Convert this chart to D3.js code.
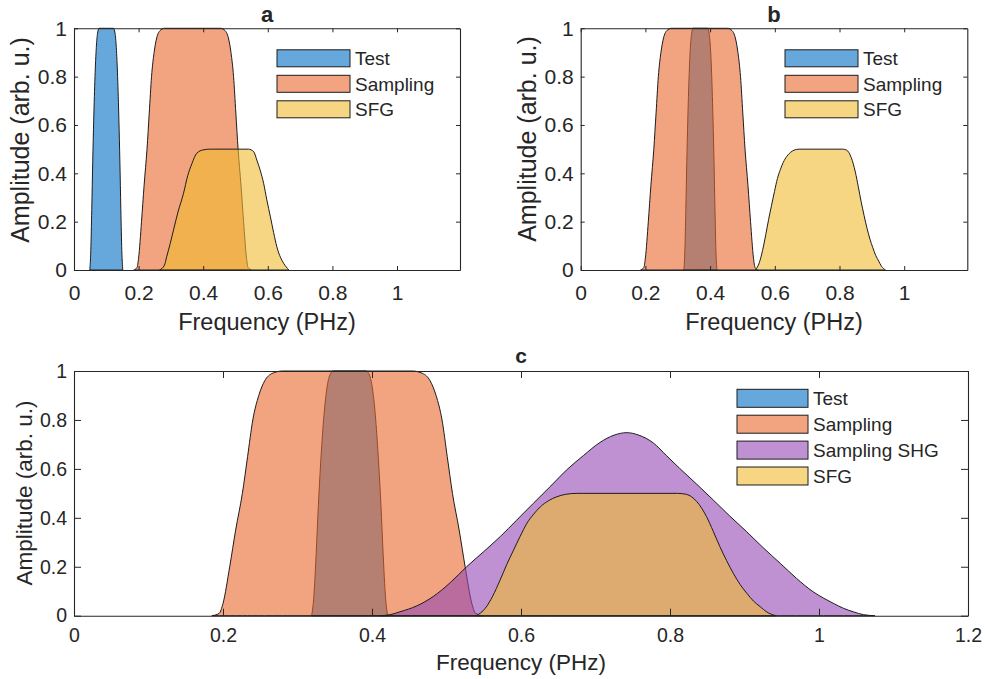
<!DOCTYPE html>
<html>
<head>
<meta charset="utf-8">
<script src="https://cdn.jsdelivr.net/npm/d3@7"></script>
<style>
  html, body { margin: 0; padding: 0; background: #ffffff; }
  svg { display: block; }
  text { font-family: "Liberation Sans", Arial, Helvetica, sans-serif; fill: #262626; }
</style>
</head>
<body>
<svg id="fig" width="985" height="679"></svg>
<script>
// ---------- spectra, [frequency (PHz), amplitude] ----------
const testPanelA = [
  [0.049,0],[0.052,0.08],[0.055,0.25],[0.058,0.45],[0.061,0.62],[0.065,0.8],[0.069,0.92],
  [0.073,0.98],[0.078,1],[0.122,1],[0.127,0.98],[0.131,0.92],[0.135,0.8],[0.139,0.62],
  [0.142,0.45],[0.145,0.25],[0.148,0.08],[0.151,0]
];
const testPanelBC = [
  [0.319,0],[0.322,0.08],[0.325,0.25],[0.328,0.45],[0.331,0.62],[0.335,0.8],[0.339,0.92],
  [0.343,0.98],[0.348,1],[0.392,1],[0.397,0.98],[0.401,0.92],[0.405,0.8],[0.409,0.62],
  [0.412,0.45],[0.415,0.25],[0.418,0.08],[0.421,0]
];
const sampling = [
  [0.185,0],[0.195,0.01],[0.200,0.05],[0.209,0.2],[0.217,0.35],[0.226,0.5],[0.233,0.65],
  [0.240,0.8],[0.248,0.9],[0.256,0.96],[0.266,0.99],[0.280,1],[0.454,1],[0.468,0.99],
  [0.478,0.96],[0.486,0.9],[0.494,0.8],[0.501,0.65],[0.508,0.5],[0.517,0.35],[0.525,0.2],
  [0.534,0.05],[0.539,0.01],[0.549,0]
];
const sfgPanelA = [
  [0.265,0],[0.280,0.02],[0.287,0.055],[0.298,0.11],[0.308,0.165],[0.322,0.24],[0.339,0.317],
  [0.352,0.39],[0.365,0.44],[0.380,0.483],[0.400,0.497],[0.420,0.5],[0.540,0.5],[0.556,0.49],
  [0.566,0.455],[0.577,0.41],[0.587,0.359],[0.597,0.29],[0.608,0.22],[0.618,0.155],
  [0.628,0.096],[0.640,0.05],[0.649,0.028],[0.665,0]
];
const sfgPanelBC = [
  [0.540,0],[0.552,0.03],[0.562,0.08],[0.572,0.146],[0.581,0.21],[0.590,0.268],[0.599,0.325],
  [0.608,0.378],[0.617,0.415],[0.626,0.445],[0.637,0.470],[0.648,0.486],[0.660,0.496],
  [0.675,0.5],[0.810,0.5],[0.822,0.496],[0.836,0.466],[0.849,0.405],[0.858,0.345],
  [0.867,0.282],[0.876,0.225],[0.885,0.173],[0.894,0.128],[0.903,0.092],[0.912,0.06],
  [0.921,0.037],[0.930,0.015],[0.942,0]
];
const samplingShg = [
  [0.410,0],[0.424,0.004],[0.4376,0.016],[0.460,0.04],[0.482,0.078],[0.505,0.135],[0.527,0.2],
  [0.550,0.262],[0.572,0.323],[0.594,0.39],[0.6165,0.459],[0.640,0.53],[0.661,0.595],
  [0.684,0.655],[0.706,0.708],[0.725,0.738],[0.742,0.748],[0.758,0.738],[0.778,0.705],
  [0.795,0.655],[0.813,0.602],[0.836,0.537],[0.858,0.473],[0.880,0.408],[0.903,0.343],
  [0.925,0.278],[0.948,0.214],[0.970,0.152],[0.992,0.098],[1.006,0.072],[1.019,0.051],
  [1.033,0.03],[1.046,0.016],[1.060,0.004],[1.075,0]
];

// ---------- labels and ticks ----------
const panelTitles = ["a", "b", "c"];
const legendTopPanels = ["Test", "Sampling", "SFG"];
const legendBottomPanel = ["Test", "Sampling", "Sampling SHG", "SFG"];
const xTicksTop = [0, 0.2, 0.4, 0.6, 0.8, 1];
const xTickLabelsTop = ["0", "0.2", "0.4", "0.6", "0.8", "1"];
const xTicksBottom = [0, 0.2, 0.4, 0.6, 0.8, 1, 1.2];
const xTickLabelsBottom = ["0", "0.2", "0.4", "0.6", "0.8", "1", "1.2"];
const yTicks = [0, 0.2, 0.4, 0.6, 0.8, 1];
const yTickLabels = ["0", "0.2", "0.4", "0.6", "0.8", "1"];
const xAxisTitle = "Frequency (PHz)";
const yAxisTitle = "Amplitude (arb. u.)";

// ---------- styling ----------
const seriesColor = {
  "Test": "#006ec5",
  "Sampling": "#e9662b",
  "Sampling SHG": "#9648b4",
  "SFG": "#f0bb2f"
};
const fillAlpha = 0.6;
const axisColor = "#262626";

const svg = d3.select("#fig");

function drawPanel(p) {
  const x = d3.scaleLinear().domain([0, p.xMax]).range([p.left, p.right]);
  const y = d3.scaleLinear().domain([0, 1]).range([p.bottom, p.top]);
  const g = svg.append("g");

  const area = d3.area()
    .x(d => x(d[0]))
    .y0(y(0))
    .y1(d => y(d[1]))
    .curve(d3.curveMonotoneX);

  p.series.forEach(s => {
    g.append("path")
      .datum(s.data)
      .attr("d", area)
      .attr("fill", seriesColor[s.name])
      .attr("fill-opacity", fillAlpha)
      .attr("stroke", "#1c1c1c")
      .attr("stroke-width", 1)
      .attr("stroke-linejoin", "round");
  });

  // axes with inward ticks on all four sides
  const tl = p.tickLen;
  const fmtX = d => p.xLabels[p.xTicks.indexOf(d)];
  const fmtY = d => yTickLabels[yTicks.indexOf(d)];

  const bottom = g.append("g").attr("transform", `translate(0,${p.bottom})`)
    .call(d3.axisBottom(x).tickValues(p.xTicks).tickFormat(fmtX)
      .tickSizeInner(-tl).tickSizeOuter(0).tickPadding(p.xPad));
  const top = g.append("g").attr("transform", `translate(0,${p.top})`)
    .call(d3.axisTop(x).tickValues(p.xTicks).tickFormat("")
      .tickSizeInner(-tl).tickSizeOuter(0));
  const left = g.append("g").attr("transform", `translate(${p.left},0)`)
    .call(d3.axisLeft(y).tickValues(yTicks).tickFormat(fmtY)
      .tickSizeInner(-tl).tickSizeOuter(0).tickPadding(p.yPad));
  const right = g.append("g").attr("transform", `translate(${p.right},0)`)
    .call(d3.axisRight(y).tickValues(yTicks).tickFormat("")
      .tickSizeInner(-tl).tickSizeOuter(0));

  [bottom, top, left, right].forEach(a => {
    a.select(".domain").attr("stroke", axisColor).attr("stroke-width", 1.1);
    a.selectAll(".tick line").attr("stroke", axisColor).attr("stroke-width", 1);
    a.selectAll(".tick text")
      .attr("fill", axisColor)
      .style("font-family", '"Liberation Sans", Arial, sans-serif')
      .style("font-size", p.tickFont + "px");
  });

  // title
  svg.append("text")
    .attr("x", (p.left + p.right) / 2)
    .attr("y", p.titleY)
    .attr("text-anchor", "middle")
    .style("font-weight", "bold")
    .style("font-size", p.titleFont + "px")
    .text(p.title);

  // axis titles
  svg.append("text")
    .attr("x", (p.left + p.right) / 2)
    .attr("y", p.xLabelY)
    .attr("text-anchor", "middle")
    .style("font-size", p.labelFont + "px")
    .text(xAxisTitle);

  svg.append("text")
    .attr("transform", `translate(${p.yLabelX},${p.yLabelCY}) rotate(-90)`)
    .attr("text-anchor", "middle")
    .style("font-size", p.yLabelFont + "px")
    .text(yAxisTitle);

  // legend
  const lg = svg.append("g");
  p.legend.forEach((name, i) => {
    const cy = p.legY0 + i * p.legStep;
    lg.append("rect")
      .attr("x", p.legX).attr("y", cy - p.legH / 2)
      .attr("width", p.legW).attr("height", p.legH)
      .attr("fill", seriesColor[name]).attr("fill-opacity", fillAlpha)
      .attr("stroke", "#1c1c1c").attr("stroke-width", 1);
    lg.append("text")
      .attr("x", p.legX + p.legW + 5)
      .attr("y", cy)
      .attr("dy", "0.36em")
      .style("font-size", p.legFont + "px")
      .text(name);
  });
}

drawPanel({
  title: panelTitles[0], left: 74, right: 460, top: 28.3, bottom: 270, xMax: 1.195,
  xTicks: xTicksTop, xLabels: xTickLabelsTop, tickLen: 4, xPad: 15, yPad: 7,
  tickFont: 21, titleFont: 22, titleY: 22, labelFont: 23.5, yLabelFont: 25,
  xLabelY: 330, yLabelX: 29, yLabelCY: 140,
  series: [
    { name: "Test", data: testPanelA },
    { name: "Sampling", data: sampling },
    { name: "SFG", data: sfgPanelA }
  ],
  legend: legendTopPanels, legX: 277, legW: 73, legH: 17, legY0: 58.3, legStep: 25.5, legFont: 19
});

drawPanel({
  title: panelTitles[1], left: 580.7, right: 967.3, top: 28.3, bottom: 270, xMax: 1.195,
  xTicks: xTicksTop, xLabels: xTickLabelsTop, tickLen: 4, xPad: 15, yPad: 7,
  tickFont: 21, titleFont: 22, titleY: 22, labelFont: 23.5, yLabelFont: 25,
  xLabelY: 330, yLabelX: 536, yLabelCY: 139,
  series: [
    { name: "Test", data: testPanelBC },
    { name: "Sampling", data: sampling },
    { name: "SFG", data: sfgPanelBC }
  ],
  legend: legendTopPanels, legX: 785, legW: 73, legH: 17, legY0: 58.3, legStep: 25.5, legFont: 19
});

drawPanel({
  title: panelTitles[2], left: 74, right: 968, top: 371, bottom: 615.7, xMax: 1.2,
  xTicks: xTicksBottom, xLabels: xTickLabelsBottom, tickLen: 7, xPad: 12, yPad: 7,
  tickFont: 19.5, titleFont: 21, titleY: 363, labelFont: 22.5, yLabelFont: 22.5,
  xLabelY: 670, yLabelX: 32, yLabelCY: 493,
  series: [
    { name: "Test", data: testPanelBC },
    { name: "Sampling", data: sampling },
    { name: "Sampling SHG", data: samplingShg },
    { name: "SFG", data: sfgPanelBC }
  ],
  legend: legendBottomPanel, legX: 737, legW: 71, legH: 18, legY0: 398.3, legStep: 25.9, legFont: 19
});
</script>
</body>
</html>
